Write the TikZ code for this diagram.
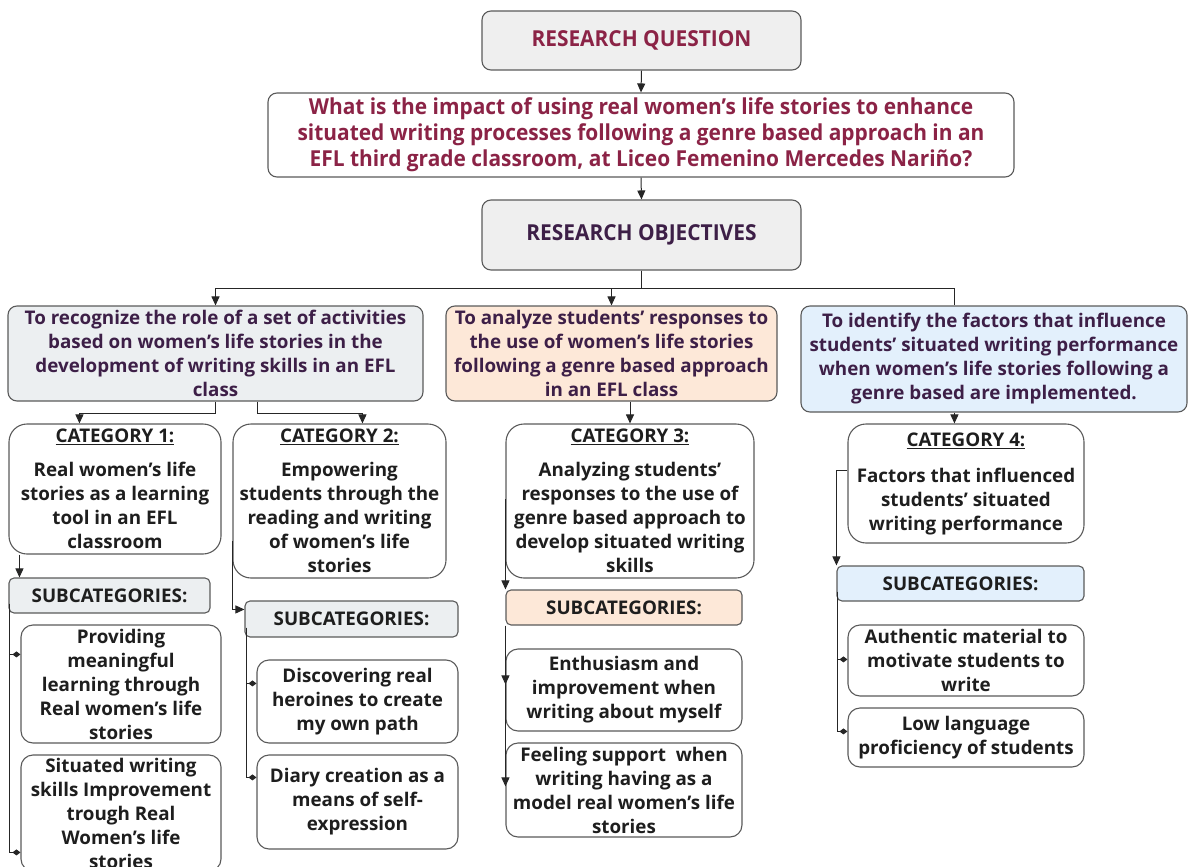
\documentclass[tikz,border=0pt]{standalone}
\usepackage{fontspec}
\setmainfont{Open Sans}
\newfontfamily\condfont[FakeStretch=0.95]{Open Sans}
\usetikzlibrary{arrows.meta,calc}
\definecolor{bordc}{HTML}{5A5A5A}
\definecolor{maroon}{HTML}{8B2346}
\definecolor{purp}{HTML}{3D1F47}
\definecolor{gfill}{HTML}{EFEFEF}
\definecolor{bgfill}{HTML}{ECEFF1}
\definecolor{peach}{HTML}{FDE8D8}
\definecolor{lblue}{HTML}{E3F0FC}
\definecolor{txt}{HTML}{1E1E1E}
\tikzset{
  box/.style={draw=bordc, line width=1.1pt, rounded corners=9pt, align=center, inner sep=0pt, fill=white,
    text=txt, font=\bfseries\fontsize{18.8}{24}\selectfont},
  titlebox/.style={box, fill=gfill, font=\condfont\bfseries\fontsize{22}{26}\selectfont},
  objbox/.style={box, text=purp, font=\bfseries\fontsize{18.8}{24}\selectfont},
  catbox/.style={box, rounded corners=18pt},
  subbox/.style={box, rounded corners=5pt},
  leafbox/.style={box, rounded corners=12pt},
  conn/.style={draw=black!85, line width=1pt},
  arr/.style={conn, -{Triangle[length=9pt,width=8pt]}},
  dia/.style={conn, -{Diamond[length=8pt,width=6pt]}},
}
\begin{document}
\begin{tikzpicture}[x=1pt,y=-1pt]
\useasboundingbox (0,0) rectangle (1189,867);
\clip (0,0) rectangle (1189,867);
% top
\node[titlebox, text=maroon, minimum width=319, minimum height=59] (RQ) at (641.5,40.5) {RESEARCH QUESTION};
\node[box, text=maroon, font=\condfont\bfseries\fontsize{22}{26}\selectfont, minimum width=746, minimum height=84] (Q) at (641,135)
 {What is the impact of using real women’s life stories to enhance\\situated writing processes following a genre based approach in an\\EFL third grade classroom, at Liceo Femenino Mercedes Nariño?};
\node[titlebox, text=purp, minimum width=319, minimum height=70] (RO) at (641.5,235) {RESEARCH OBJECTIVES};
% objectives
\node[objbox, fill=bgfill, minimum width=415, minimum height=95] (O1) at (215.5,353.5)
 {To recognize the role of a set of activities\\based on women’s life stories in the\\development of writing skills in an EFL\\class};
\node[objbox, fill=peach, minimum width=331, minimum height=95] (O2) at (611.5,353.5)
 {To analyze students’ responses to\\the use of women’s life stories\\following a genre based approach\\in an EFL class};
\node[objbox, fill=lblue, minimum width=386, minimum height=106] (O3) at (994,359)
 {To identify the factors that influence\\students’ situated writing performance\\when women's life stories following a\\genre based are implemented.};
% categories
\node[catbox, minimum width=212, minimum height=130] (C1) at (115,489)
 {\underline{CATEGORY 1:}\\[10pt]Real women’s life\\stories as a learning\\tool in an EFL\\classroom};
\node[catbox, minimum width=213, minimum height=154] (C2) at (339.5,501)
 {\underline{CATEGORY 2:}\\[10pt]Empowering\\students through the\\reading and writing\\of women’s life\\stories};
\node[catbox, minimum width=248, minimum height=154] (C3) at (630,501)
 {\underline{CATEGORY 3:}\\[10pt]Analyzing students’\\responses to the use of\\genre based approach to\\develop situated writing\\skills};
\node[catbox, minimum width=236, minimum height=119] (C4) at (966,483.5)
 {\underline{CATEGORY 4:}\\[12pt]Factors that influenced\\students’ situated\\writing performance};
% subcategory headers
\node[subbox, fill=bgfill, minimum width=201, minimum height=35] (S1) at (109.5,595.5) {SUBCATEGORIES:};
\node[subbox, fill=bgfill, minimum width=213, minimum height=36] (S2) at (351.5,619) {SUBCATEGORIES:};
\node[subbox, fill=peach, minimum width=236, minimum height=35] (S3) at (624,607.5) {SUBCATEGORIES:};
\node[subbox, fill=lblue, minimum width=247, minimum height=35] (S4) at (960.5,583.5) {SUBCATEGORIES:};
% leaves
\node[leafbox, minimum width=200, minimum height=118] (L1a) at (121,684)
 {Providing\\meaningful\\learning through\\Real women’s life\\stories};
\node[leafbox, minimum width=200, minimum height=116] (L1b) at (121,813)
 {Situated writing\\skills Improvement\\trough Real\\Women’s life\\stories};
\node[leafbox, minimum width=201, minimum height=83] (L2a) at (357.5,701.5)
 {Discovering real\\heroines to create\\my own path};
\node[leafbox, minimum width=201, minimum height=94] (L2b) at (357.5,802)
 {Diary creation as a\\means of self-\\expression};
\node[leafbox, minimum width=236, minimum height=82] (L3a) at (624,690)
 {Enthusiasm and\\improvement when\\writing about myself};
\node[leafbox, minimum width=236, minimum height=94] (L3b) at (624,790)
 {Feeling support\ \ when\\writing having as a\\model real women's life\\stories};
\node[leafbox, minimum width=236, minimum height=71] (L4a) at (966,660.5)
 {Authentic material to\\motivate students to\\write};
\node[leafbox, minimum width=236, minimum height=59] (L4b) at (966,737.5)
 {Low language\\proficiency of students};
% connectors
\draw[arr] (RQ.south) -- (Q.north);
\draw[arr] (Q.south) -- (RO.north);
\draw[arr] (RO.south) -- ++(0,18) -| (O2.north);
\draw[arr] (RO.south) -- ++(0,18) -| (O1.north);
\draw[conn] (RO.south) -- ++(0,18) -| ($(O3.north west)+(154,0)$);
\draw[arr] (O1.south) -- ++(0,12) -| ($(C1.north west)+(71,0)$);
\draw[arr] ($(O1.south)+(42,0)$) -- ++(0,12) -| ($(C2.north west)+(130,0)$);
\draw[arr] (C3.north |- O2.south) -- (C3.north);
\draw[arr] ($(O3.south west)+(154,0)$) -- ($(C4.north west)+(107,0)$);
\draw[arr] ($(C1.south west)+(11,0)$) -- ($(S1.north west)+(11,0)$);
\draw[dia] ($(S1.south west)+(1,-10)$) |- ($(L1a.north west)+(0,30)$);
\draw[dia] ($(S1.south west)+(1,-10)$) |- ($(L1b.north west)+(0,98)$);
\draw[arr] ($(C2.west)+(0,40)$) |- ($(S2.north west)+(0,9)$);
\draw[dia] ($(S2.south west)+(2,-10)$) |- ($(L2a.north west)+(0,24)$);
\draw[dia] ($(S2.south west)+(2,-10)$) |- ($(L2b.north west)+(0,23)$);
\draw[arr] ($(C3.north west)+(0,76)$) -- (S3.north west);
\draw[arr] (S3.south west) -- ($(L3a.north west)+(0,36)$);
\draw[arr] (S3.south west) -- ($(L3b.north west)+(0,44)$);
\draw[arr] ($(C4.north west)+(0,47)$) -| (S4.north west);
\draw[dia] ($(S4.south west)+(1,-10)$) |- ($(L4a.north west)+(0,35)$);
\draw[dia] ($(S4.south west)+(1,-10)$) |- ($(L4b.north west)+(0,24)$);
\end{tikzpicture}
\end{document}
